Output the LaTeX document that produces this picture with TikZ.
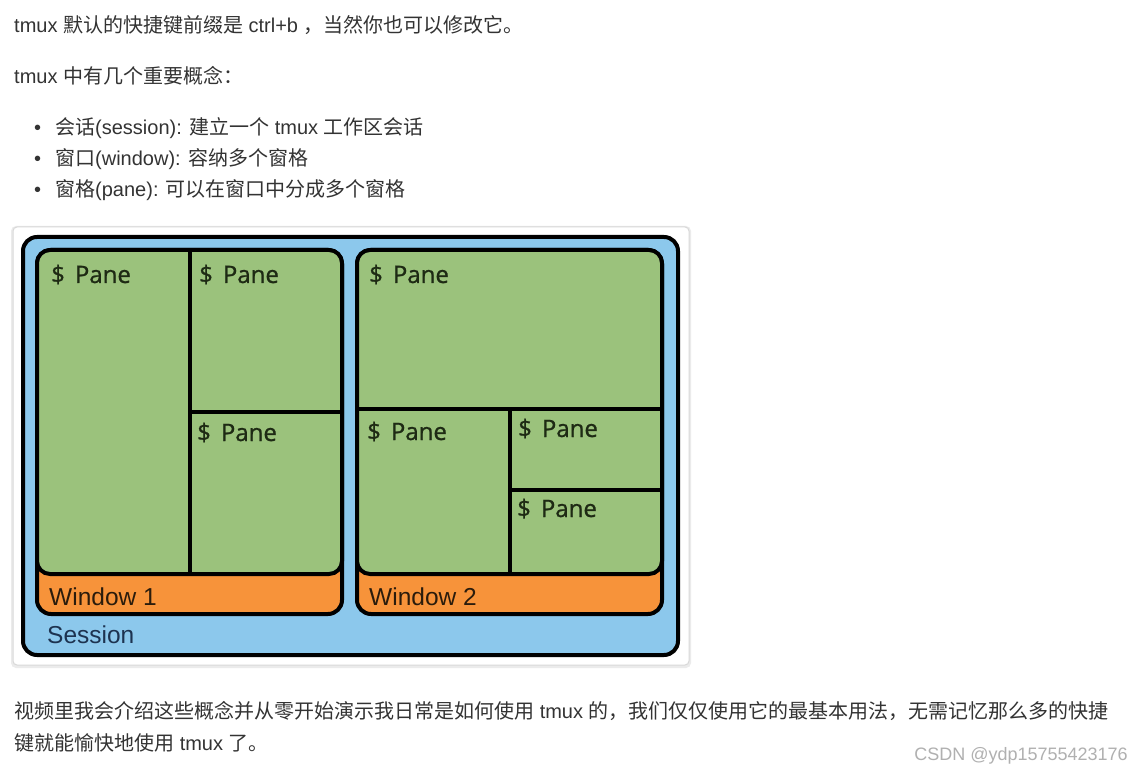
\documentclass[tikz,border=0pt]{standalone}
\usepackage{fontspec}
\setmainfont{Liberation Sans}
\newfontfamily\cjk{Noto Sans CJK SC}
\newfontfamily\panefont[BoldFont={Open Sans},BoldFeatures={FakeBold=0.9}]{Open Sans}
\newcommand{\zh}[1]{{\cjk #1}}
\definecolor{bodygray}{HTML}{333333}
\definecolor{sessblue}{HTML}{8CC8EC}
\definecolor{panegreen}{HTML}{9BC27C}
\definecolor{winorange}{HTML}{F7933A}
\definecolor{cardline}{HTML}{D8D8D8}
\definecolor{panetext}{HTML}{1E2A14}
\definecolor{wintext}{HTML}{2B1C0C}
\definecolor{sesstext}{HTML}{1D3350}
\definecolor{wmgray}{HTML}{B0B0B0}
\begin{document}
\begin{tikzpicture}[x=1pt,y=-1pt,
  body/.style={anchor=base west, inner sep=0pt, text=bodygray, font=\fontsize{20}{24}\selectfont},
  bulletdot/.style={anchor=base west, inner sep=0pt, text=bodygray, font=\fontsize{20}{24}\selectfont},
  pane/.style={anchor=base west, inner sep=0pt, text=panetext, font=\panefont\bfseries\fontsize{24}{28}\selectfont},
  winlabel/.style={anchor=base west, inner sep=0pt, text=wintext, font=\fontsize{24.5}{28}\selectfont},
  sesslabel/.style={anchor=base west, inner sep=0pt, text=sesstext, font=\fontsize{24.5}{28}\selectfont},
  thickline/.style={line width=4pt, draw=black},
  divider/.style={line width=4pt, draw=black},
]
\useasboundingbox (0,0) rectangle (1143,775);
\fill[white] (0,0) rectangle (1143,775);

% ---- top text ----
\node[body] (t1) at (14,33) {tmux \zh{默认的快捷键前缀是} ctrl+b \zh{，当然你也可以修改它。}};
\node[body] (t2) at (14,84) {tmux \zh{中有几个重要概念：}};
\node[bulletdot] (b1dot) at (34,135) {•};
\node[bulletdot] (b2dot) at (34,166) {•};
\node[bulletdot] (b3dot) at (34,197) {•};
\node[body] (b1) at (55,135) {\zh{会话}(session): \zh{建立一个} tmux \zh{工作区会话}};
\node[body] (b2) at (55,166) {\zh{窗口}(window): \zh{容纳多个窗格}};
\node[body] (b3) at (55,197) {\zh{窗格}(pane): \zh{可以在窗口中分成多个窗格}};

% ---- diagram card ----
\fill[black!8, rounded corners=5] (11,226) rectangle (691,668);
\draw[cardline, fill=white, line width=1pt, rounded corners=4] (13,227) rectangle (689,665);

% session
\draw[thickline, fill=sessblue, rounded corners=14] (23,237) rectangle (678,655);

% window 1
\draw[thickline, fill=winorange, rounded corners=14] (37,250) rectangle (342,614);
\draw[thickline, fill=panegreen, rounded corners=13] (37,250) rectangle (342,574);
\draw[divider] (190,250) -- (190,574);
\draw[divider] (190,412) -- (342,412);

% window 2
\draw[thickline, fill=winorange, rounded corners=14] (357,250) rectangle (662,614);
\draw[thickline, fill=panegreen, rounded corners=13] (357,250) rectangle (662,574);
\draw[divider] (357,409) -- (662,409);
\draw[divider] (510,409) -- (510,574);
\draw[divider] (510,490) -- (662,490);

% pane labels
\node[pane] (p1) at (51,283) {\$\hspace{10pt}Pane};
\node[pane] (p2) at (199,283) {\$\hspace{10pt}Pane};
\node[pane] (p3) at (197,441) {\$\hspace{10pt}Pane};
\node[pane] (p4) at (369,283) {\$\hspace{10pt}Pane};
\node[pane] (p5) at (367,440) {\$\hspace{10pt}Pane};
\node[pane] (p6) at (518,437) {\$\hspace{10pt}Pane};
\node[pane] (p7) at (517,517) {\$\hspace{10pt}Pane};

% window + session labels
\node[winlabel] (w1) at (49,605) {Window 1};
\node[winlabel] (w2) at (369,605) {Window 2};
\node[sesslabel] (s) at (47,643) {Session};

% ---- bottom text ----
\node[body] (t3) at (14,718) {\zh{视频里我会介绍这些概念并从零开始演示我日常是如何使用} tmux \zh{的，我们仅仅使用它的最基本用法，无需记忆那么多的快捷}};
\node[body] (t4) at (14,750) {\zh{键就能愉快地使用} tmux \zh{了。}};
\node[anchor=base east, inner sep=0pt, text=wmgray, font=\fontsize{18}{20}\selectfont] (wm) at (1128,760) {CSDN @ydp15755423176};
\end{tikzpicture}
\end{document}
